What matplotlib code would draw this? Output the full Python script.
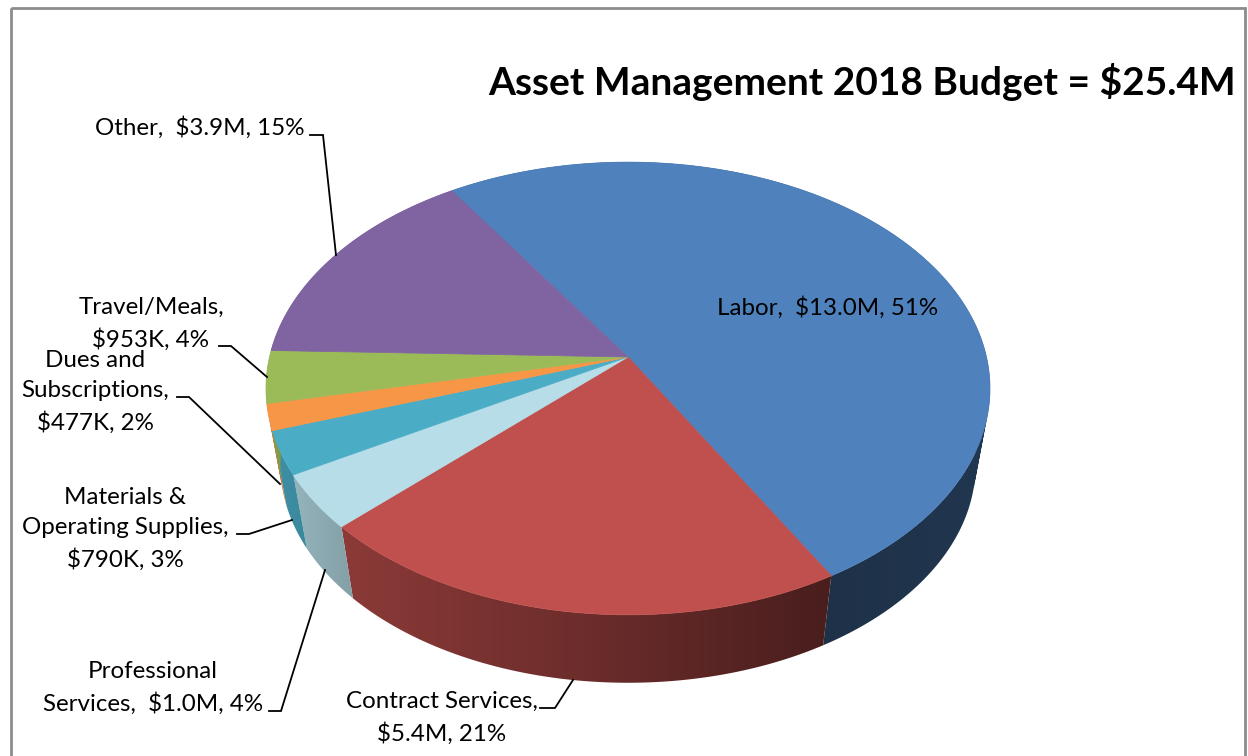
import numpy as np
import matplotlib
matplotlib.use("Agg")
import matplotlib.pyplot as plt
from matplotlib.patches import PathPatch, Polygon, Rectangle
from matplotlib.path import Path

plt.rcParams['font.family'] = ['Lato', 'DejaVu Sans']

# budget in $M, clockwise from the top left
categories = ["Labor", "Contract Services", "Professional Services",
              "Materials & Operating Supplies", "Dues and Subscriptions",
              "Travel/Meals", "Other"]
values = [13.0, 5.4, 1.0, 0.79, 0.477, 0.953, 3.9]
colors = ["#4F81BD", "#C0504D", "#B7DEE8", "#4BACC6", "#F79646", "#9BBB59", "#8064A2"]
labels = ["Labor,  $13.0M, 51%", "Contract Services,\n$5.4M, 21%",
          "Professional\nServices,  $1.0M, 4%", "Materials &\nOperating Supplies,\n$790K, 3%",
          "Dues and\nSubscriptions,\n$477K, 2%", "Travel/Meals,\n$953K, 4%",
          "Other,  $3.9M, 15%"]
title = "Asset Management 2018 Budget = $25.4M"

# pie geometry, in picture pixels
APEX_X, APEX_Y = 628, 357
SCALE_X, SCALE_UP, PERSP = 358.5, 222.0, 0.139
START_ANGLE = 123.3
LOW_CY_TOP, LOW_CY, LOW_SCALE = 388, 465, 0.96

label_pos = [(828, 308), (442, 718), (153, 688), (125, 529), (95, 392), (151, 324), (200, 128)]
leaders = [None,
           [(540, 708), (555, 708), (573, 680)],
           [(269, 711), (281, 711), (325, 570)],
           [(237, 534), (249, 534), (292, 520)],
           [(177, 397), (189, 397), (280, 484)],
           [(219, 346), (231, 346), (267, 377)],
           [(310, 135), (323, 135), (336, 255)]]


def rim(theta):
    # perspective projection of the unit circle
    t = np.radians(theta)
    u, v = np.cos(t), np.sin(t)
    w = 1 + PERSP * v
    return APEX_X + SCALE_X * u / w, APEX_Y - SCALE_UP * v / w


def low_rim(theta):
    x, y = rim(theta)
    return APEX_X + LOW_SCALE * (x - APEX_X), LOW_CY + LOW_SCALE * (y - LOW_CY_TOP)


def shade(x):
    return np.interp(x, [266, 352, 600, 826, 990], [0.85, 0.72, 0.55, 0.38, 0.42])


def wall_path(theta):
    # union of small quads, all wound the same way so the silhouette edge stays filled
    x1, y1 = rim(theta)
    x2, y2 = low_rim(theta)
    parts = []
    for j in range(len(theta) - 1):
        q = np.array([(x1[j], y1[j]), (x1[j + 1], y1[j + 1]), (x2[j + 1], y2[j + 1]), (x2[j], y2[j])])
        area = np.sum(q[:, 0] * np.roll(q[:, 1], -1) - np.roll(q[:, 0], -1) * q[:, 1])
        if area < 0:
            q = q[::-1]
        parts.append(Path(np.vstack([q, q[:1]]), closed=True))
    return Path.make_compound_path(*parts)


fig = plt.figure(figsize=(12.48, 7.56), dpi=100)
ax = fig.add_axes([0, 0, 1, 1])

ax.add_patch(Rectangle((11, 8), 1234, 800, fill=False, edgecolor="#8C8C8C", linewidth=2))

fractions = np.array(values) / sum(values)
edges = START_ANGLE - np.concatenate([[0], np.cumsum(fractions)]) * 360

# horizontal shading strip for the side wall
strip_x = np.arange(250, 1000)
strip = shade(strip_x)[None, :, None]

# side wall first, the top covers whatever is behind it
for i, c in enumerate(colors):
    th = np.linspace(edges[i], edges[i + 1], 200)
    wall = PathPatch(wall_path(th), transform=ax.transData, facecolor="none", edgecolor="none")
    ax.add_patch(wall)
    base = np.array(matplotlib.colors.to_rgb(c))[None, None, :]
    im = ax.imshow(strip * base, extent=(250, 1000, 700, 100), aspect="auto",
                   interpolation="bilinear", zorder=2)
    im.set_clip_path(wall)

for i, c in enumerate(colors):
    th = np.linspace(edges[i], edges[i + 1], 200)
    x, y = rim(th)
    pts = [(APEX_X, APEX_Y)] + list(zip(x, y))
    ax.add_patch(Polygon(pts, closed=True, facecolor=c, edgecolor=c, linewidth=0.5, zorder=3))

for pts in leaders:
    if pts:
        ax.plot([p[0] for p in pts], [p[1] for p in pts], color="black", lw=1.3, zorder=4,
                solid_joinstyle="miter")

for lab, (x, y) in zip(labels, label_pos):
    ax.text(x, y, lab, ha="center", va="center", fontsize=17.4, color="black",
            linespacing=1.55, zorder=5)

ax.text(1236, 82, title, ha="right", va="center", fontsize=28, fontweight="bold", color="black")

ax.set_xlim(0, 1248)
ax.set_ylim(756, 0)
ax.axis("off")

fig.savefig("out.png", dpi=100)
